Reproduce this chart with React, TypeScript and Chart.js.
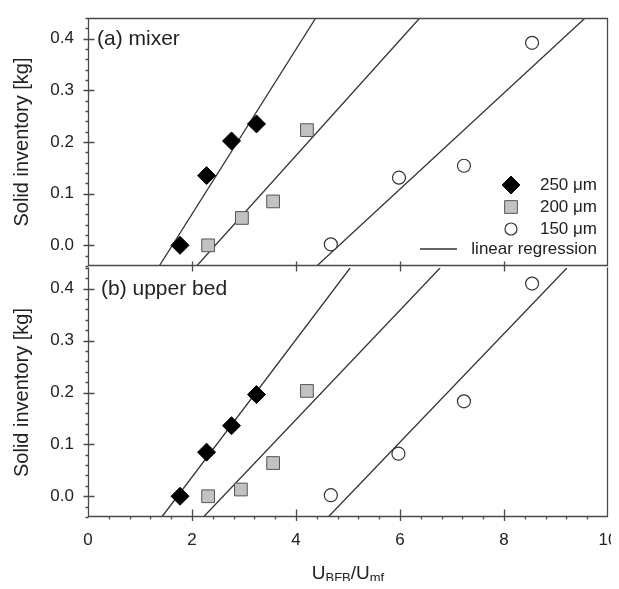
import React, { useEffect, useRef } from 'react';
import { Chart, registerables } from 'chart.js';

Chart.register(...registerables);

// ---------- data ----------
const xRange = [0, 10];
const yRange = [-0.04, 0.44];
const xTickValues = [0, 2, 4, 6, 8, 10];
const yTickValues = [0.0, 0.1, 0.2, 0.3, 0.4];
const xMinorStep = 0.4;
const yMinorStep = 0.02;

const legendLabels = ['250 \u03bcm', '200 \u03bcm', '150 \u03bcm', 'linear regression'];
const panelLabels = ['(a) mixer', '(b) upper bed'];
const yTitle = 'Solid inventory [kg]';
const xTitleParts = [
  { text: 'U', sub: false },
  { text: 'BFB', sub: true },
  { text: '/U', sub: false },
  { text: 'mf', sub: true },
];

// (a) mixer
const mixer250X = [1.77, 2.28, 2.76, 3.24];
const mixer250Y = [0.0, 0.135, 0.202, 0.235];
const mixer200X = [2.31, 2.96, 3.56, 4.21];
const mixer200Y = [0.0, 0.053, 0.085, 0.223];
const mixer150X = [4.67, 5.98, 7.23, 8.54];
const mixer150Y = [0.002, 0.131, 0.154, 0.392];
// regression lines: [x at y=-0.04, x at y=0.44]
const mixerFit250X = [1.37, 4.38];
const mixerFit200X = [2.09, 6.38];
const mixerFit150X = [4.4, 9.56];

// (b) upper bed
const upper250X = [1.77, 2.28, 2.76, 3.24];
const upper250Y = [0.0, 0.085, 0.136, 0.196];
const upper200X = [2.31, 2.94, 3.56, 4.21];
const upper200Y = [0.0, 0.013, 0.064, 0.203];
const upper150X = [4.67, 5.97, 7.23, 8.54];
const upper150Y = [0.002, 0.082, 0.183, 0.41];
const upperFit250X = [1.42, 5.04];
const upperFit200X = [2.22, 6.77];
const upperFit150X = [4.62, 9.21];

const fitY = [-0.04, 0.44];

// ---------- styles ----------
const FONT = "'Liberation Sans', Arial, Helvetica, sans-serif";
const TEXT = '#222';
const AXIS = '#4a4a4a';
const LINE = '#333';
const S250 = { style: 'rectRot', radius: 9, fill: '#000000', stroke: '#000000', width: 1 };
const S200 = { style: 'rect', radius: 9, fill: '#c2c2c2', stroke: '#555555', width: 1 };
const S150 = { style: 'circle', radius: 6.5, fill: '#ffffff', stroke: '#333333', width: 1.2 };

const pts = (xs: number[], ys: number[]) => xs.map((x, i) => ({ x, y: ys[i] }));

function pointSet(label: string, xs: number[], ys: number[], s: any) {
  return {
    label,
    data: pts(xs, ys),
    showLine: false,
    pointStyle: s.style,
    pointRadius: s.radius,
    pointBackgroundColor: s.fill,
    pointBorderColor: s.stroke,
    pointBorderWidth: s.width,
    order: 1,
  };
}

function lineSet(xs: number[]) {
  return {
    label: legendLabels[3],
    data: pts(xs, fitY),
    showLine: true,
    pointRadius: 0,
    borderColor: LINE,
    borderWidth: 1.3,
    backgroundColor: LINE,
    order: 2,
  };
}

function drawMarker(ctx: CanvasRenderingContext2D, s: any, x: number, y: number) {
  ctx.save();
  ctx.fillStyle = s.fill;
  ctx.strokeStyle = s.stroke;
  ctx.lineWidth = s.width;
  ctx.beginPath();
  if (s.style === 'rectRot') {
    ctx.moveTo(x - s.radius, y);
    ctx.lineTo(x, y - s.radius);
    ctx.lineTo(x + s.radius, y);
    ctx.lineTo(x, y + s.radius);
    ctx.closePath();
  } else if (s.style === 'rect') {
    const h = s.radius * Math.SQRT1_2;
    ctx.rect(x - h, y - h, 2 * h, 2 * h);
  } else {
    ctx.arc(x, y, s.radius, 0, Math.PI * 2);
  }
  ctx.fill();
  ctx.stroke();
  ctx.restore();
}

const isMajor = (v: number, majors: number[]) => majors.some((m) => Math.abs(m - v) < 1e-6);

function framePlugin(isTop: boolean) {
  return {
    id: 'frameTicks',
    afterDatasetsDraw(chart: any) {
      const { ctx, chartArea: a, scales } = chart;
      const xs = scales.x;
      const ys = scales.y;
      const L = Math.round(a.left) + 0.5;
      const R = Math.round(a.right) - 0.5;
      const T = Math.round(a.top) + 0.5;
      const B = Math.round(a.bottom) - 0.5;
      ctx.save();
      ctx.strokeStyle = AXIS;
      ctx.lineWidth = 1.3;
      ctx.beginPath();
      if (isTop) {
        ctx.moveTo(L, B);
        ctx.lineTo(L, T);
        ctx.lineTo(R, T);
        ctx.lineTo(R, B);
        ctx.lineTo(L, B);
      } else {
        ctx.moveTo(L, T - 1);
        ctx.lineTo(L, B);
        ctx.lineTo(R, B);
        ctx.lineTo(R, T - 1);
      }
      // y ticks
      const ny = Math.round((yRange[1] - yRange[0]) / yMinorStep);
      for (let i = 0; i <= ny; i++) {
        const v = yRange[0] + i * yMinorStep;
        const p = Math.round(ys.getPixelForValue(v)) + 0.5;
        if (isMajor(v, yTickValues)) {
          ctx.moveTo(L - 5, p);
          ctx.lineTo(L + 6, p);
        } else {
          ctx.moveTo(L - 3, p);
          ctx.lineTo(L, p);
        }
      }
      // x ticks
      const nx = Math.round((xRange[1] - xRange[0]) / xMinorStep);
      for (let i = 1; i < nx; i++) {
        const v = xRange[0] + i * xMinorStep;
        const p = Math.round(xs.getPixelForValue(v)) + 0.5;
        if (isTop) {
          if (isMajor(v, xTickValues)) {
            ctx.moveTo(p, B - 4);
            ctx.lineTo(p, B + 6);
          }
        } else if (isMajor(v, xTickValues)) {
          ctx.moveTo(p, B - 7);
          ctx.lineTo(p, B + 4.5);
        } else {
          ctx.moveTo(p, B);
          ctx.lineTo(p, B + 3);
        }
      }
      ctx.stroke();
      // panel label
      ctx.fillStyle = TEXT;
      ctx.font = `21px ${FONT}`;
      ctx.textAlign = 'left';
      ctx.textBaseline = 'middle';
      ctx.fillText(isTop ? panelLabels[0] : panelLabels[1], a.left + (isTop ? 9 : 13), a.top + 21);
      ctx.restore();
    },
  };
}

const legendPlugin = {
  id: 'insideLegend',
  afterDraw(chart: any) {
    const { ctx, chartArea: a } = chart;
    const textRight = a.right - 11;
    const markerX = a.right - 97;
    const rows = [a.bottom - 81, a.bottom - 59, a.bottom - 37, a.bottom - 17];
    drawMarker(ctx, S250, markerX, rows[0]);
    drawMarker(ctx, S200, markerX, rows[1]);
    drawMarker(ctx, { ...S150, radius: 6 }, markerX, rows[2]);
    ctx.save();
    ctx.strokeStyle = LINE;
    ctx.lineWidth = 1.3;
    ctx.beginPath();
    ctx.moveTo(a.right - 188, rows[3]);
    ctx.lineTo(a.right - 151, rows[3]);
    ctx.stroke();
    ctx.fillStyle = TEXT;
    ctx.font = `17px ${FONT}`;
    ctx.textAlign = 'right';
    ctx.textBaseline = 'middle';
    legendLabels.forEach((t, i) => ctx.fillText(t, textRight, rows[i]));
    ctx.restore();
  },
};

function xTitleWidths(ctx: CanvasRenderingContext2D, fontFor: (s: boolean) => string) {
  return xTitleParts.map((p) => {
    ctx.font = fontFor(p.sub);
    return ctx.measureText(p.text).width;
  });
}

const xTitlePlugin = {
  id: 'xTitle',
  afterDraw(chart: any) {
    const { ctx, chartArea: a } = chart;
    ctx.save();
    ctx.fillStyle = TEXT;
    ctx.textAlign = 'left';
    ctx.textBaseline = 'alphabetic';
    const fontFor = (sub: boolean) => (sub ? `13px ${FONT}` : `19px ${FONT}`);
    const widths = xTitleWidths(ctx, fontFor);
    const total = widths.reduce((s, w) => s + w, 0);
    let x = (a.left + a.right) / 2 - total / 2;
    const base = a.bottom + 62;
    xTitleParts.forEach((p, i) => {
      ctx.font = fontFor(p.sub);
      ctx.fillText(p.text, x, p.sub ? base + 3 : base);
      x += widths[i];
    });
    ctx.restore();
  },
};

function buildConfig(isTop: boolean): any {
  const d = isTop
    ? [
        pointSet(legendLabels[0], mixer250X, mixer250Y, S250),
        pointSet(legendLabels[1], mixer200X, mixer200Y, S200),
        pointSet(legendLabels[2], mixer150X, mixer150Y, S150),
        lineSet(mixerFit250X),
        lineSet(mixerFit200X),
        lineSet(mixerFit150X),
      ]
    : [
        pointSet(legendLabels[0], upper250X, upper250Y, S250),
        pointSet(legendLabels[1], upper200X, upper200Y, S200),
        pointSet(legendLabels[2], upper150X, upper150Y, S150),
        lineSet(upperFit250X),
        lineSet(upperFit200X),
        lineSet(upperFit150X),
      ];
  const plugins: any[] = [framePlugin(isTop)];
  if (isTop) plugins.push(legendPlugin);
  else plugins.push(xTitlePlugin);
  return {
    type: 'scatter',
    data: { datasets: d },
    plugins,
    options: {
      responsive: false,
      animation: false,
      events: [],
      layout: { padding: { top: 8, right: 11, bottom: isTop ? 12 : 0, left: 0 } },
      plugins: { legend: { display: false }, tooltip: { enabled: false } },
      scales: {
        x: {
          type: 'linear',
          min: xRange[0],
          max: xRange[1],
          display: !isTop,
          grid: { display: false, drawTicks: false },
          border: { display: false },
          afterBuildTicks: (s: any) => {
            s.ticks = xTickValues.map((v) => ({ value: v }));
          },
          afterFit: (s: any) => {
            s.height = isTop ? 0 : 72;
            s.paddingLeft = 0;
            s.paddingRight = 0;
          },
          ticks: {
            autoSkip: false,
            maxRotation: 0,
            padding: 13,
            color: TEXT,
            font: { family: FONT, size: 17 },
            callback: (v: any) => String(v),
          },
        },
        y: {
          type: 'linear',
          min: yRange[0],
          max: yRange[1],
          grid: { display: false, drawTicks: false },
          border: { display: false },
          afterBuildTicks: (s: any) => {
            s.ticks = yTickValues.map((v) => ({ value: v }));
          },
          afterFit: (s: any) => {
            s.width = 80;
            s.paddingTop = 0;
            s.paddingBottom = 0;
          },
          ticks: {
            autoSkip: false,
            padding: 14,
            color: TEXT,
            font: { family: FONT, size: 17 },
            callback: (v: any) => Number(v).toFixed(1),
          },
          title: {
            display: true,
            text: yTitle,
            color: TEXT,
            font: { family: FONT, size: 20 },
            padding: { top: 2, bottom: 0 },
          },
        },
      },
    },
  };
}

export default function App() {
  const topRef = useRef<HTMLCanvasElement>(null);
  const botRef = useRef<HTMLCanvasElement>(null);
  useEffect(() => {
    const a = new Chart(topRef.current as HTMLCanvasElement, buildConfig(true));
    const b = new Chart(botRef.current as HTMLCanvasElement, buildConfig(false));
    return () => {
      a.destroy();
      b.destroy();
    };
  }, []);
  return (
    <div style={{ position: 'relative', width: 611, height: 573 }}>
      <canvas
        ref={topRef}
        width={611}
        height={270}
        style={{ position: 'absolute', left: 0, top: 0, width: 611, height: 270 }}
      />
      <canvas
        ref={botRef}
        width={611}
        height={331}
        style={{ position: 'absolute', left: 0, top: 250, width: 611, height: 331 }}
      />
    </div>
  );
}
